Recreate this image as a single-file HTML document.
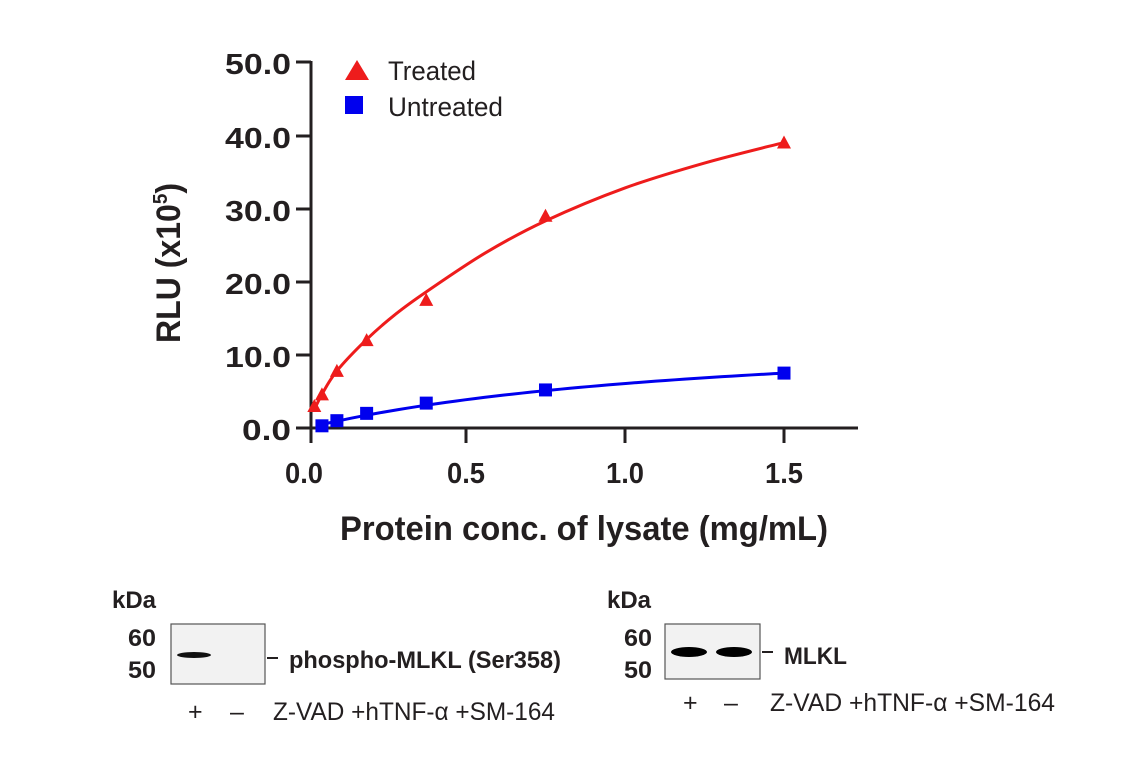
<!DOCTYPE html>
<html><head><meta charset="utf-8"><style>
html,body{margin:0;padding:0;background:#fff;}
svg{display:block;font-family:"Liberation Sans",sans-serif;font-weight:bold;}
</style></head><body>
<svg id="s" width="1141" height="768" viewBox="0 0 1141 768" xmlns="http://www.w3.org/2000/svg">
<g stroke="#231f20" stroke-width="3" fill="none">
<line x1="311" y1="61" x2="311" y2="443"/>
<line x1="296" y1="428" x2="858" y2="428"/>
<line x1="296" y1="62" x2="311" y2="62"/>
<line x1="296" y1="136" x2="311" y2="136"/>
<line x1="296" y1="209" x2="311" y2="209"/>
<line x1="296" y1="282" x2="311" y2="282"/>
<line x1="296" y1="355" x2="311" y2="355"/>
<line x1="466" y1="428" x2="466" y2="443"/>
<line x1="625" y1="428" x2="625" y2="443"/>
<line x1="784" y1="428" x2="784" y2="443"/>
</g>
<g fill="#231f20" font-size="29">
<text x="225" y="74" textLength="66" lengthAdjust="spacingAndGlyphs">50.0</text>
<text x="225" y="148" textLength="66" lengthAdjust="spacingAndGlyphs">40.0</text>
<text x="225" y="221" textLength="66" lengthAdjust="spacingAndGlyphs">30.0</text>
<text x="225" y="294" textLength="66" lengthAdjust="spacingAndGlyphs">20.0</text>
<text x="225" y="367" textLength="66" lengthAdjust="spacingAndGlyphs">10.0</text>
<text x="242" y="440" textLength="49" lengthAdjust="spacingAndGlyphs">0.0</text>
</g>
<g fill="#231f20" font-size="29">
<text x="285" y="483" textLength="38" lengthAdjust="spacingAndGlyphs">0.0</text>
<text x="447" y="483" textLength="38" lengthAdjust="spacingAndGlyphs">0.5</text>
<text x="606" y="483" textLength="38" lengthAdjust="spacingAndGlyphs">1.0</text>
<text x="765" y="483" textLength="38" lengthAdjust="spacingAndGlyphs">1.5</text>
</g>
<text x="340" y="540" font-size="34" fill="#231f20" textLength="488" lengthAdjust="spacingAndGlyphs">Protein conc. of lysate (mg/mL)</text>
<text transform="translate(180,343) rotate(-90)" font-size="34" fill="#231f20" textLength="160" lengthAdjust="spacingAndGlyphs">RLU (x10<tspan font-size="20" dy="-13">5</tspan><tspan dy="13">)</tspan></text>
<polygon points="345,80 357,60 369,80" fill="#ee1c1c"/>
<text x="388" y="80" font-size="27" font-weight="normal" fill="#231f20" textLength="88" lengthAdjust="spacingAndGlyphs">Treated</text>
<rect x="345" y="96" width="18" height="18" fill="#0000ee"/>
<text x="388" y="116" font-size="27" font-weight="normal" fill="#231f20" textLength="115" lengthAdjust="spacingAndGlyphs">Untreated</text>
<g id="plot"></g>
<g fill="#231f20" font-size="24">
<text x="112" y="608" textLength="44" lengthAdjust="spacingAndGlyphs">kDa</text>
<text x="128" y="646" textLength="28" lengthAdjust="spacingAndGlyphs">60</text>
<text x="128" y="678" textLength="28" lengthAdjust="spacingAndGlyphs">50</text>
<text x="607" y="608" textLength="44" lengthAdjust="spacingAndGlyphs">kDa</text>
<text x="624" y="646" textLength="28" lengthAdjust="spacingAndGlyphs">60</text>
<text x="624" y="678" textLength="28" lengthAdjust="spacingAndGlyphs">50</text>
<text x="289" y="668" textLength="272" lengthAdjust="spacingAndGlyphs">phospho-MLKL (Ser358)</text>
<text x="784" y="664" textLength="63" lengthAdjust="spacingAndGlyphs">MLKL</text>
</g>
<g fill="#231f20" font-size="25" font-weight="normal">
<text x="188" y="720">+</text><text x="230" y="720">–</text>
<text x="273" y="720" textLength="282" lengthAdjust="spacingAndGlyphs">Z-VAD +hTNF-α +SM-164</text>
<text x="683" y="711">+</text><text x="724" y="711">–</text>
<text x="770" y="711" textLength="285" lengthAdjust="spacingAndGlyphs">Z-VAD +hTNF-α +SM-164</text>
</g>
<rect x="171" y="624" width="94" height="60" fill="#f2f2f2" stroke="#555" stroke-width="1.2"/>
<rect x="665" y="624" width="95" height="55" fill="#f2f2f2" stroke="#555" stroke-width="1.2"/>
<ellipse cx="194" cy="655" rx="17" ry="3" fill="#111"/>
<ellipse cx="689" cy="652" rx="18" ry="5" fill="#000"/>
<ellipse cx="734" cy="652" rx="18" ry="5" fill="#000"/>
<line x1="267" y1="658" x2="278" y2="658" stroke="#231f20" stroke-width="2"/>
<line x1="762" y1="652" x2="773" y2="652" stroke="#231f20" stroke-width="2"/>
</svg>
<script>
var X=function(v){return 307+318*v},Y=function(v){return 428-7.32*v};
function cr(pts){var p=pts.map(function(a){return [X(a[0]),Y(a[1])]});var d="M"+p[0][0]+","+p[0][1];
for(var i=0;i<p.length-1;i++){var p0=p[i-1]||p[i],p1=p[i],p2=p[i+1],p3=p[i+2]||p2;
d+=" C"+(p1[0]+(p2[0]-p0[0])/6)+","+(p1[1]+(p2[1]-p0[1])/6)+" "+(p2[0]-(p3[0]-p1[0])/6)+","+(p2[1]-(p3[1]-p1[1])/6)+" "+p2[0]+","+p2[1];}return d;}
var g=document.getElementById("plot"),h="";
h+='<path d="'+cr([[0.023,2.5],[0.047,4.6],[0.094,7.8],[0.19,12.2],[0.28,15.6],[0.375,18.6],[0.56,23.9],[0.75,28.3],[1.0,32.8],[1.25,36.2],[1.5,39]])+'" fill="none" stroke="#ee1c1c" stroke-width="3"/>';
var u=[];for(var x=0.047;x<=1.5001;x+=0.03){u.push([x,14.15*x/(1.33+x)]);}u.push([1.5,7.5]);
h+='<path d="'+cr(u)+'" fill="none" stroke="#0000ee" stroke-width="3"/>';
[[0.023,3],[0.047,4.6],[0.094,7.8],[0.1875,12],[0.375,17.5],[0.75,29],[1.5,39]].forEach(function(a){var x=X(a[0]),y=Y(a[1]);h+='<polygon points="'+(x-7)+','+(y+6)+' '+x+','+(y-7)+' '+(x+7)+','+(y+6)+'" fill="#ee1c1c"/>';});
[[0.047,0.3],[0.094,1],[0.1875,2],[0.375,3.4],[0.75,5.2],[1.5,7.5]].forEach(function(a){var x=X(a[0]),y=Y(a[1]);h+='<rect x="'+(x-6.5)+'" y="'+(y-6.5)+'" width="13" height="13" fill="#0000ee"/>';});
g.innerHTML=h;
</script>
</body></html>
